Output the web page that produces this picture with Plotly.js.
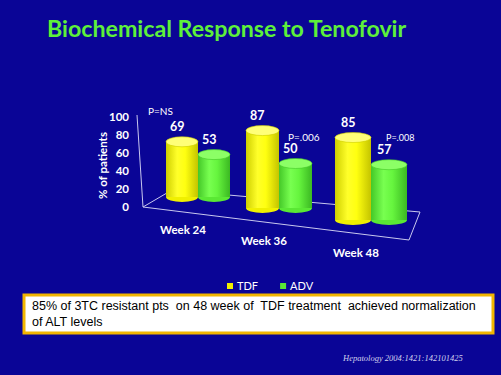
<!DOCTYPE html>
<html><head><meta charset="utf-8">
<script src="https://cdn.plot.ly/plotly-3.0.1.min.js"></script>
<style>
html,body{margin:0;padding:0;background:#0a0596;}
</style>
</head><body><div id="chart" style="width:501px;height:375px;"></div>
<script>
const categories = ['Week 24','Week 36','Week 48'];
const seriesNames = ['TDF','ADV'];
const tdfValues = [69, 87, 85];
const advValues = [53, 50, 57];
const pLabels = ['P=NS','P=.006','P=.008'];
const yTickVals = [0,20,40,60,80,100];
const yAxisTitle = '% of patients';

const W = 501, H = 375;
const px = x => x / W, py = y => 1 - y / H;

// styling / perspective geometry (pixels)
const groups = [
  {c:198, base:197, s:80, bw:32},
  {c:279, base:208, s:89, bw:33},
  {c:371, base:220, s:97, bw:36}
];
const bodyColors = ['#f0f000', '#5ae834'];
const capColors  = ['#ffff78', '#8cff66'];
const gradStops  = [['#cfcf00','#ffff2a','#ffff10','#c4c400'], ['#44c828','#78ff50','#66f53e','#3bb822']];
const pShift = [[-54,44,10],[8,27,10],[11,27.5,9]];
const LOW = -12.5;

const series = [tdfValues, advValues];
const traces = [];
const shapes = [];
const annotations = [];
const layout = {
  width: W, height: H,
  paper_bgcolor: '#0a0596', plot_bgcolor: 'rgba(0,0,0,0)',
  margin: {l:0, r:0, t:0, b:0},
  barmode: 'overlay',
  showlegend: true,
  title: {text: 'Biochemical Response to Tenofovir', x: px(47), xanchor: 'left', y: py(29), yanchor: 'middle',
          font: {family: 'Lato', size: 23.2, color: '#5ef03a', weight: 'bold'}},
  legend: {orientation: 'h', x: px(210), y: py(286), xanchor: 'left', yanchor: 'middle',
           font: {family: 'Lato', size: 11, color: '#ffffff'}, bgcolor: 'rgba(0,0,0,0)', itemwidth: 30},
  font: {family: 'Lato', color: '#ffffff'}
};

groups.forEach((g, gi) => {
  const xa = gi === 0 ? 'xaxis' : 'xaxis' + (gi + 1);
  const ya = gi === 0 ? 'yaxis' : 'yaxis' + (gi + 1);
  const xr = gi === 0 ? 'x' : 'x' + (gi + 1);
  const yr = gi === 0 ? 'y' : 'y' + (gi + 1);
  const w = g.bw / 100;
  const bottomPx = g.base - LOW * g.s / 100;
  const topPx = g.base - g.s;
  layout[xa] = {domain: [px(g.c - 50), px(g.c + 50)], range: [-0.5, 0.5], type: 'category',
                anchor: yr, visible: false, fixedrange: true};
  layout[ya] = {domain: [py(bottomPx), py(topPx)], range: [LOW, 100], anchor: xr,
                visible: false, fixedrange: true};
  const ry = 5 * 100 / g.s;
  series.forEach((vals, si) => {
    const v = vals[gi];
    const x0 = si === 0 ? -w : 0;
    traces.push({
      type: 'bar', x: [categories[gi]], y: [v], name: seriesNames[si],
      xaxis: xr, yaxis: yr, width: w, offset: x0,
      marker: {color: bodyColors[si], line: {width: 0}},
      legendgroup: seriesNames[si], showlegend: gi === 0, hoverinfo: 'skip'
    });
    shapes.push({type: 'circle', xref: xr, yref: yr, layer: 'below',
      x0: x0, x1: x0 + w, y0: -ry, y1: ry, fillcolor: bodyColors[si], line: {width: 0}});
    shapes.push({type: 'circle', xref: xr, yref: yr, layer: 'above',
      x0: x0, x1: x0 + w, y0: v - ry, y1: v + ry, fillcolor: capColors[si],
      line: {width: 0.6, color: gradStops[si][0]}});
    annotations.push({xref: xr, yref: yr, x: x0 + w / 2, y: v, text: String(v), showarrow: false,
      yanchor: 'middle', yshift: 15, xshift: -5,
      font: {family: 'Lato', size: 12.5, color: '#ffffff', weight: 'bold'}});
  });
  annotations.push({xref: xr, yref: yr, x: w / 2, y: advValues[gi], text: pLabels[gi], showarrow: false,
    xshift: pShift[gi][0], yshift: pShift[gi][1],
    font: {family: 'Lato', size: pShift[gi][2], color: '#ffffff'}});
  annotations.push({xref: xr, yref: yr, x: 0, y: 0, text: '<b>' + categories[gi] + '</b>', showarrow: false,
    xshift: -15, yshift: -32.5, font: {family: 'Lato', size: 11.5, color: '#ffffff'}});
});

// tick axis on back wall
layout.yaxis4 = {overlaying: 'y', anchor: 'free', position: px(129), side: 'left',
  range: [0, 100], tickvals: yTickVals, showgrid: false, zeroline: false, showline: false,
  ticks: '', fixedrange: true,
  tickfont: {family: 'Lato', size: 11.5, color: '#ffffff', weight: 'bold'}};
traces.push({type: 'scatter', x: [], y: [], yaxis: 'y4', xaxis: 'x', showlegend: false, hoverinfo: 'skip'});
annotations.push({xref: 'paper', yref: 'paper', x: px(102), y: py(166), text: '<b>' + yAxisTitle + '</b>',
  textangle: -90, showarrow: false, xanchor: 'center', yanchor: 'middle',
  font: {family: 'Lato', size: 11.5, color: '#ffffff'}});

// floor and wall outline
const P = (x, y) => px(x) + ',' + py(y);
shapes.push({type: 'path', xref: 'paper', yref: 'paper', layer: 'below',
  path: 'M' + P(143,207) + ' L' + P(409,240) + ' L' + P(420,212) + ' L' + P(172,190) + ' Z',
  line: {color: '#c8c8ee', width: 1}});
shapes.push({type: 'line', xref: 'paper', yref: 'paper', layer: 'below',
  x0: px(137), y0: py(115), x1: px(143), y1: py(207), line: {color: '#c8c8ee', width: 1}});

// text box
shapes.push({type: 'rect', xref: 'paper', yref: 'paper', x0: px(24), x1: px(493), y0: py(333), y1: py(295),
  fillcolor: '#ffffff', line: {color: '#f2b600', width: 3}});
annotations.push({xref: 'paper', yref: 'paper', x: px(30), y: py(314), xanchor: 'left', yanchor: 'middle',
  align: 'left', showarrow: false,
  text: '85% of 3TC resistant pts&nbsp; on 48 week of&nbsp; TDF treatment&nbsp; achieved normalization<br>of ALT levels',
  font: {family: 'Liberation Sans', size: 12.5, color: '#000000'}});
annotations.push({xref: 'paper', yref: 'paper', x: px(402), y: py(358), xanchor: 'center', yanchor: 'middle',
  showarrow: false, text: '<i>Hepatology 2004:1421:142101425</i>',
  font: {family: 'Liberation Serif', size: 8.5, color: '#d0d0ec'}});

layout.shapes = shapes;
layout.annotations = annotations;

function hexToRgb(h) {
  const n = parseInt(h.slice(1), 16);
  return 'rgb(' + (n >> 16) + ', ' + ((n >> 8) & 255) + ', ' + (n & 255) + ')';
}

Plotly.newPlot('chart', traces, layout, {displayModeBar: false, staticPlot: true}).then(gd => {
  // cylinder shading: horizontal gradient on bar bodies and bottom ellipses
  const svg = gd.querySelector('svg.main-svg');
  const NS = 'http://www.w3.org/2000/svg';
  let defs = svg.querySelector('defs');
  if (!defs) { defs = document.createElementNS(NS, 'defs'); svg.insertBefore(defs, svg.firstChild); }
  gradStops.forEach((stops, si) => {
    const lg = document.createElementNS(NS, 'linearGradient');
    lg.setAttribute('id', 'cyl' + si);
    lg.setAttribute('x1', '0'); lg.setAttribute('x2', '1'); lg.setAttribute('y1', '0'); lg.setAttribute('y2', '0');
    [0, 0.35, 0.6, 1].forEach((o, k) => {
      const st = document.createElementNS(NS, 'stop');
      st.setAttribute('offset', o);
      st.setAttribute('stop-color', stops[k]);
      lg.appendChild(st);
    });
    defs.appendChild(lg);
  });
  const targets = bodyColors.map(hexToRgb);
  gd.querySelectorAll('.barlayer path, .layer-below .shapelayer path').forEach(p => {
    if (p.closest('.legend')) return;
    const f = p.style.fill;
    const si = targets.indexOf(f);
    if (si >= 0) p.style.fill = 'url(#cyl' + si + ')';
  });
  // compact legend: small square swatches close to their labels
  gd.querySelectorAll('.legend .traces').forEach((it, k) => {
    const pth = it.querySelector('.legendpoints path');
    if (pth) pth.setAttribute('transform', 'translate(20,0) scale(0.5)');
    const tx = it.querySelector('.legendtext');
    if (tx) tx.setAttribute('x', String(parseFloat(tx.getAttribute('x') || '40') - 13));
    const m = /translate\(\s*([-\d.]+)[ ,]+([-\d.]+)\s*\)/.exec(it.getAttribute('transform') || '');
    if (m && k > 0) it.setAttribute('transform', 'translate(' + (parseFloat(m[1]) - 13 * k) + ',' + m[2] + ')');
  });
});
</script></body></html>
